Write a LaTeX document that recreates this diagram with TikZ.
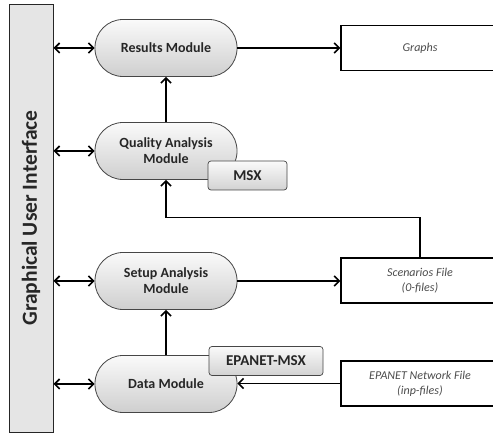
\documentclass[tikz,border=0pt]{standalone}
\usepackage{fontspec}
\setmainfont{Carlito}
\usetikzlibrary{arrows.meta,calc}

\tikzset{
  module/.style={draw=gray!55!black, line width=0.8pt, rounded corners=28pt,
    minimum width=142pt, minimum height=57pt, align=center,
    top color=gray!4, bottom color=gray!38, font=\fontsize{14}{16}\selectfont\bfseries,
    text=black!85},
  addon/.style={draw=gray!55!black, line width=0.7pt, rounded corners=3pt,
    minimum height=29pt, top color=gray!4, bottom color=gray!35,
    font=\fontsize{15}{17}\selectfont\bfseries, text=black!85},
  filebox/.style={draw=black, line width=1.3pt, fill=white, minimum width=158pt,
    minimum height=45pt, align=center, font=\fontsize{12}{15}\selectfont\itshape,
    text=black!70},
  flow/.style={line width=1.6pt, -{Straight Barb[length=5pt,width=10pt]}},
  link/.style={line width=1.6pt, {Straight Barb[length=5pt,width=10pt]}-{Straight Barb[length=5pt,width=10pt]}}
}

\begin{document}
\begin{tikzpicture}[x=1pt,y=-1pt]
\useasboundingbox (0,0) rectangle (493,435);

% interface bar on the left
\node[draw=black!85, line width=1pt, fill=gray!20, minimum width=44pt,
  minimum height=428pt, inner sep=0pt] (gui) at (31,219) {};
\node[rotate=90, font=\fontsize{21.5}{24}\selectfont\bfseries, text=black!85]
  (guitext) at (31,218) {Graphical User Interface};

% modules
\node[module] (res)  at (166,48)  {Results Module};
\node[module] (qual) at (166,151) {Quality Analysis\\Module};
\node[module] (setup) at (166,281) {Setup Analysis\\Module};
\node[module] (data) at (166,384) {Data Module};

% add-on libraries
\node[addon, minimum width=79pt]  (msx)    at (247.5,175.5) {MSX};
\node[addon, minimum width=114pt] (epamsx) at (266,361)  {EPANET-MSX};

% files
\node[filebox] (graphs) at (420,48)  {Graphs};
\node[filebox] (scen)   at (420,280.5) {Scenarios File\\(0-files)};
\node[filebox] (net)    at (420,383.5) {EPANET Network File\\(inp-files)};

% connections with the interface
\foreach \m in {res,qual,setup,data}
  \draw[link] (gui.east |- \m) -- (\m.west);

% data flow
\draw[flow] (res.east) -- (res.east -| graphs.west);
\draw[flow] (qual.north) -- (res.south);
\draw[flow] (data.north) -- (setup.south);
\draw[flow] (setup.east) -- (setup.east -| scen.west);
\draw[flow] (scen.north) -- ++(0,-40) -| (qual.south);
\draw[flow] (net.west) -- (net.west -| data.east);
\end{tikzpicture}
\end{document}
